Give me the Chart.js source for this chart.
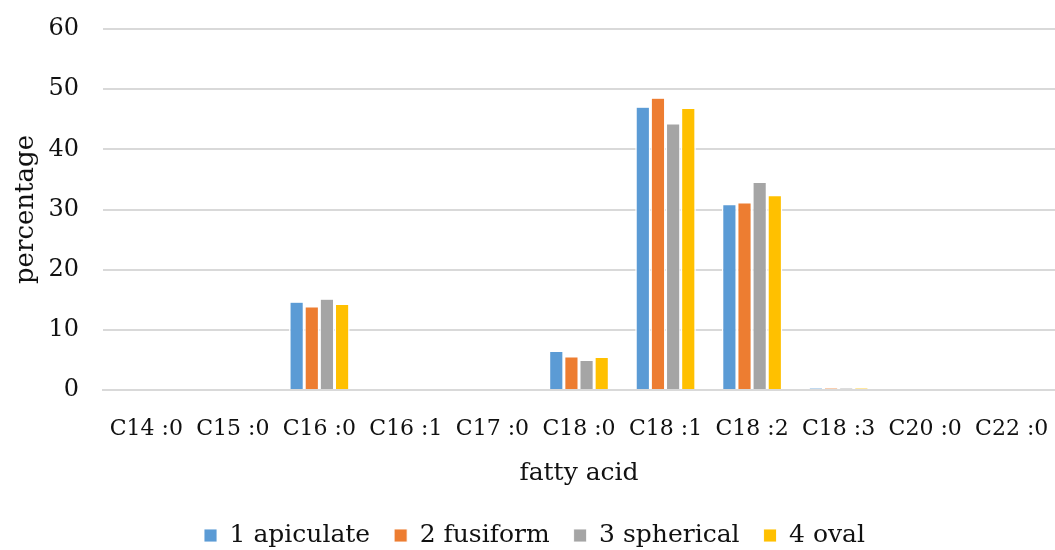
<!DOCTYPE html>
<html>
<head>
<meta charset="utf-8">
<script src="https://cdn.jsdelivr.net/npm/chart.js@4"></script>
<style>
  html, body { margin: 0; padding: 0; background: #fff; }
  #wrap { width: 1055px; height: 550px; }
</style>
</head>
<body>
<div id="wrap"><canvas id="chart" width="1055" height="550"></canvas></div>
<script>
// fatty acid categories
const categories = ["C14 :0", "C15 :0", "C16 :0", "C16 :1", "C17 :0", "C18 :0", "C18 :1", "C18 :2", "C18 :3", "C20 :0", "C22 :0"];

// percentage per yeast shape
const apiculate = [0, 0, 14.6, 0, 0, 6.4, 47.0, 30.8, 0.3, 0.15, 0];
const fusiform  = [0, 0, 13.8, 0, 0, 5.5, 48.5, 31.1, 0.3, 0.15, 0];
const spherical = [0, 0, 15.1, 0, 0, 4.9, 44.2, 34.5, 0.3, 0.15, 0];
const oval      = [0, 0, 14.2, 0, 0, 5.4, 46.8, 32.3, 0.3, 0.15, 0];

const yTicks = [0, 10, 20, 30, 40, 50, 60];

const font = "DejaVu Serif";
const textColor = "#111";

Chart.defaults.font.family = font;

function series(label, data, color) {
  return {
    label: label,
    data: data,
    backgroundColor: color,
    borderColor: "#ffffff",
    borderWidth: { top: 0.5, left: 1.5, right: 1.5, bottom: 0 },
    borderSkipped: "bottom",
    categoryPercentage: 0.7,
    barPercentage: 1.0
  };
}

const ctx = document.getElementById("chart").getContext("2d");
new Chart(ctx, {
  type: "bar",
  data: {
    labels: categories,
    datasets: [
      series("1 apiculate", apiculate, "#5b9bd5"),
      series("2 fusiform", fusiform, "#ed7d31"),
      series("3 spherical", spherical, "#a5a5a5"),
      series("4 oval", oval, "#ffc000")
    ]
  },
  options: {
    responsive: false,
    animation: false,
    layout: { padding: { top: 29, right: -3, left: 11, bottom: -8 } },
    scales: {
      x: {
        grid: { display: false },
        border: { color: "#d9d9d9", width: 2 },
        ticks: { color: textColor, font: { family: font, size: 22 }, padding: 18, maxRotation: 0, autoSkip: false },
        title: { display: true, text: "fatty acid", color: textColor, font: { family: font, size: 25 }, padding: { top: 10, bottom: 11 } },
        afterFit: (scale) => {
          scale.height = 109;
          scale.paddingLeft = 0;
          scale.paddingRight = 0;
        }
      },
      y: {
        min: 0,
        max: 60,
        afterBuildTicks: (scale) => { scale.ticks = yTicks.map(v => ({ value: v })); },
        grid: { color: "#d9d9d9", lineWidth: 2, drawTicks: false },
        border: { display: false },
        ticks: { color: textColor, font: { family: font, size: 24 }, padding: 24 },
        title: { display: true, text: "percentage", color: textColor, font: { family: font, size: 26 }, padding: { top: 0, bottom: 0 } },
        afterFit: (scale) => {
          scale.width = 92;
          scale.paddingTop = 0;
          scale.paddingBottom = 0;
        }
      }
    },
    plugins: {
      legend: {
        position: "bottom",
        labels: {
          color: textColor,
          font: { family: font, size: 25 },
          boxWidth: 13,
          boxHeight: 13,
          padding: 24
        }
      },
      tooltip: { enabled: false }
    }
  }
});
</script>
</body>
</html>
